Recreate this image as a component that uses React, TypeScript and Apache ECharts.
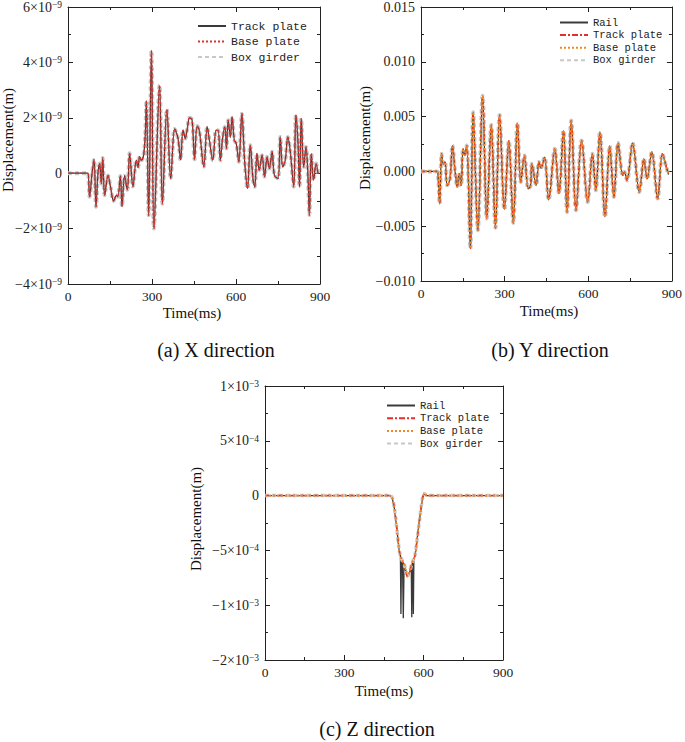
import React, { useEffect, useRef } from "react";
import * as echarts from "echarts";

const SERIF = "Liberation Serif";
const MONO = "Liberation Mono";
const INK = "#222";

const timeTickLabels = ["0", "300", "600", "900"];

// (a) X direction, displacement in units of 1e-9 m
const xDirTime = [
  0, 65, 71, 77, 86, 93, 100, 107, 113, 119, 124, 131, 143, 152, 163, 173, 178, 187, 193, 202,
  212, 220, 232, 244, 250, 256, 262, 270, 276, 280, 288, 298, 307, 327, 337, 353, 367, 381, 393,
  402, 411, 419, 426, 434, 443, 452, 461, 469, 485, 497, 505, 517, 529, 536, 544, 552, 560, 566,
  572, 580, 586, 594, 601, 610, 621, 631, 641, 651, 661, 667, 675, 683, 693, 702, 711, 719, 729,
  737, 750, 758, 767, 776, 785, 794, 806, 814, 821, 827, 833, 842, 850, 857, 862, 869, 877, 886, 893,
];
const xDirDisp = [
  0, 0, 0, -0.85, 0, 0.49, -1.21, 0, 0.35, -0.38, 0.55, -0.8, -0.08, -0.5, -1.0, -0.8, -0.85, -0.1,
  -1.2, -0.1, -0.6, 0.72, -0.48, 0.47, 0.2, 0.6, 0.47, 0.65, 1.42, 2.62, -1.52, 4.42, -2.0, 3.17,
  -1.1, 2.3, -0.2, 1.6, 1.25, 0.48, 1.55, 1.25, 1.6, 2.0, 1.93, 0.5, 1.7, 1.55, 0.23, 1.67, 1.19,
  0.47, 1.55, 1.55, 0.47, 1.25, 1.67, 0.89, 1.91, 1.31, 2.03, 1.19, 1.07, 0.41, 2.15, 0.41, -0.55,
  1.01, -0.25, -0.49, 0.71, 0.11, 0.65, -0.13, 0.59, 0.17, 0.77, -0.07, -0.19, 1.31, 0.23, 0.47,
  1.31, 0.77, -0.49, 2.09, 1.19, -0.49, 1.97, 0.23, 0.95, -0.13, -1.51, 0.71, -0.25, 0.35, -0.01,
];
const xDirTickLabels = ["−4×10^−9", "−2×10^−9", "0", "2×10^−9", "4×10^−9", "6×10^−9"];

// (b) Y direction, displacement in units of 1e-3 m
const yDirTime = [
  0, 57, 61, 67, 74, 80, 86, 94, 104, 113, 122, 130, 137, 144, 151, 157, 164, 177, 187, 204, 221,
  236, 252, 267, 282, 299, 315, 331, 346, 358, 371, 385, 393, 398, 413, 423, 430, 443, 458, 480,
  495, 511, 524, 539, 556, 576, 598, 615, 627, 642, 660, 677, 692, 707, 724, 730, 739, 759, 783,
  800, 811, 828, 849, 866, 880, 888,
];
const yDirDisp = [
  0, 0, -0.36, -2.94, 1.61, 0.7, 0.85, -1.27, -0.67, 2.36, 0.09, -1.42, -0.21, -1.27, 2.06, 1.45,
  2.36, -7.03, 5.39, -5.36, 6.9, -4.3, 4.24, -5.15, 5.15, -3.48, 2.79, -4.7, 4.42, -0.97, 1.45,
  -1.58, -1.3, 0.7, -1.27, 0.85, 0.3, 1.3, -2.6, 2.06, -2.03, 3.73, -3.7, 4.64, -3.55, 2.82, -2.79,
  1.61, -1.73, 3.58, -4.15, 2.3, -2.33, 2.6, -0.36, -0.06, -0.82, 2.6, -1.88, 1.15, -0.67, 1.76,
  -2.48, 1.61, 0.4, -0.3,
];
const yDirTickLabels = ["−0.010", "−0.005", "0.000", "0.005", "0.010", "0.015"];

// (c) Z direction, displacement in units of 1e-3 m
const zDirTime = [
  0, 473, 481, 489, 498, 507, 512, 517, 522, 527, 533, 538, 543, 548, 553, 557, 562, 567, 576, 586,
  596, 603, 612, 900,
];
const zDirDisp = [
  0, 0, -0.02, -0.11, -0.29, -0.49, -0.55, -0.58, -0.61, -0.63, -0.69, -0.74, -0.72, -0.69, -0.64,
  -0.61, -0.58, -0.55, -0.385, -0.19, -0.02, 0.02, 0, 0,
];
const zRailTime = [
  0, 473, 481, 489, 498, 507, 512, 514, 516, 520, 523, 526, 533, 538, 543, 548, 553, 555, 557, 559,
  561, 563, 567, 576, 586, 596, 603, 612, 900,
];
const zRailDisp = [
  0, 0, -0.02, -0.11, -0.29, -0.49, -0.55, -1.08, -0.58, -0.62, -1.12, -0.63, -0.69, -0.74, -0.72,
  -0.69, -0.64, -1.11, -0.61, -0.6, -1.08, -0.58, -0.55, -0.385, -0.19, -0.02, 0.02, 0, 0,
];
const zDirTickLabels = ["−2×10^−3", "−1×10^−3", "−5×10^−4", "0", "5×10^−4", "1×10^−3"];

const DARK = "#3a3a3a";
const RED = "#e3302a";
const ORANGE = "#f28a22";
const GREY = "#c8c8c8";

const pairs = (t: number[], v: number[]) => t.map((x, i) => [x, v[i]]);

const tickFmt = (labels: string[], min: number, step: number) => (v: number) => {
  const s = labels[Math.round((v - min) / step)] ?? "";
  const k = s.indexOf("^");
  return k < 0 ? `{m|${s}}` : `{m|${s.slice(0, k)}}{e|${s.slice(k + 1)}}`;
};

const rich = {
  m: { fontFamily: SERIF, fontSize: 14, color: INK },
  e: { fontFamily: SERIF, fontSize: 9.5, color: INK, verticalAlign: "top" },
};

const tickCommon = {
  axisLine: { onZero: false, lineStyle: { color: INK, width: 1 } },
  axisTick: { inside: true, length: 5, lineStyle: { color: INK } },
  minorTick: { show: true, splitNumber: 2, length: 3, lineStyle: { color: INK } },
  splitLine: { show: false },
};

const panels = [
  { grid: { left: 68, top: 6, width: 252, height: 278 }, min: -4, max: 6, step: 2, labels: xDirTickLabels },
  { grid: { left: 421, top: 6, width: 254, height: 275 }, min: -10, max: 15, step: 5, labels: yDirTickLabels },
  { grid: { left: 265, top: 386, width: 238, height: 274 }, min: -1.5, max: 1, step: 0.5, labels: zDirTickLabels },
];

const line = (name: string, idx: number, data: number[][], color: string, width: number, type: any, smooth: number | boolean = 0.35) => ({
  name,
  type: "line",
  xAxisIndex: idx * 2,
  yAxisIndex: idx * 2,
  data,
  symbol: "none",
  smooth,
  lineStyle: { color, width, type },
  itemStyle: { color },
  silent: true,
});

const legendBase = (left: number, top: number, gap: number, fontSize: number, data: string[]) => ({
  left,
  top,
  orient: "vertical",
  padding: 0,
  itemWidth: 28,
  itemHeight: 12,
  itemGap: gap,
  itemStyle: { opacity: 0 },
  data,
  selectedMode: false,
  formatter: (n: string) => n.split("#")[0],
  textStyle: { fontFamily: MONO, fontSize, color: INK, padding: [0, 0, 0, 0] },
});

const text = (t: string, x: number, y: number, size: number, rotate = 0) => ({
  type: "text",
  x,
  y,
  rotation: rotate,
  style: {
    text: t,
    fontFamily: SERIF,
    fontSize: size,
    fill: "#111",
    align: "center",
    verticalAlign: "middle",
  },
});

export default function App() {
  const ref = useRef<HTMLDivElement>(null);

  useEffect(() => {
    if (!ref.current) return;
    const chart = echarts.init(ref.current, null, { renderer: "svg" });

    const xAxis: any[] = [];
    const yAxis: any[] = [];
    panels.forEach((p, i) => {
      xAxis.push({
        type: "value", gridIndex: i, min: 0, max: 900, interval: 300, position: "bottom",
        ...tickCommon,
        axisLabel: {
          margin: 5,
          formatter: (v: number) => timeTickLabels[Math.round(v / 300)] ?? "",
          fontFamily: SERIF, fontSize: 13.5, color: INK,
        },
      });
      xAxis.push({
        type: "value", gridIndex: i, min: 0, max: 900, interval: 300, position: "top",
        ...tickCommon, axisLabel: { show: false },
      });
      yAxis.push({
        type: "value", gridIndex: i, min: p.min, max: p.max, interval: p.step, position: "left",
        ...tickCommon,
        axisLabel: {
          margin: 6, fontFamily: SERIF, fontSize: 14, color: INK,
          formatter: tickFmt(p.labels, p.min, p.step), rich,
        },
      });
      yAxis.push({
        type: "value", gridIndex: i, min: p.min, max: p.max, interval: p.step, position: "right",
        ...tickCommon, axisLabel: { show: false },
      });
    });

    const xd = pairs(xDirTime, xDirDisp);
    const yd = pairs(yDirTime, yDirDisp);
    const zd = pairs(zDirTime, zDirDisp);
    const zr = pairs(zRailTime, zRailDisp);

    const dotted = [2, 2];
    const dashed = [4, 3];
    const dashDot = [6, 2, 2, 2];

    chart.setOption({
      animation: false,
      backgroundColor: "#fff",
      grid: panels.map((p) => ({ ...p.grid, containLabel: false })),
      xAxis,
      yAxis,
      legend: [
        legendBase(197, 20, 3.5, 11.5, ["Track plate#a", "Base plate#a", "Box girder#a"]),
        legendBase(559, 17, 1.6, 10.5, ["Rail#b", "Track plate#b", "Base plate#b", "Box girder#b"]),
        legendBase(386, 400, 1.7, 10.5, ["Rail#c", "Track plate#c", "Base plate#c", "Box girder#c"]),
      ],
      series: [
        line("Box girder#a", 0, xd, GREY, 4, dashed),
        line("Track plate#a", 0, xd, DARK, 1.2, "solid"),
        line("Base plate#a", 0, xd, RED, 1.5, dotted),

        line("Box girder#b", 1, yd, GREY, 4, dashed),
        line("Rail#b", 1, yd, DARK, 1.2, "solid"),
        line("Track plate#b", 1, yd, RED, 1.5, dashDot),
        line("Base plate#b", 1, yd, ORANGE, 1.6, dotted),

        line("Rail#c", 2, zr, DARK, 1.3, "solid", false),
        line("Box girder#c", 2, zd, GREY, 3.5, dashed, 0.3),
        line("Track plate#c", 2, zd, RED, 1.5, dashDot, 0.3),
        line("Base plate#c", 2, zd, ORANGE, 1.6, dotted, 0.3),
      ],
      graphic: [
        text("Displacement(m)", 8, 140, 15, Math.PI / 2),
        text("Displacement(m)", 365, 138, 15, Math.PI / 2),
        text("Displacement(m)", 196, 519, 15, Math.PI / 2),
        text("Time(ms)", 192, 313, 15),
        text("Time(ms)", 549, 311, 15),
        text("Time(ms)", 384, 691, 15),
        text("(a) X direction", 216, 350, 20),
        text("(b) Y direction", 550, 350, 20),
        text("(c) Z direction", 377, 729, 20),
      ],
    });

    return () => chart.dispose();
  }, []);

  return (
    <div
      ref={ref}
      style={{ position: "absolute", left: 0, top: 0, width: 685, height: 742, background: "#fff" }}
    />
  );
}
